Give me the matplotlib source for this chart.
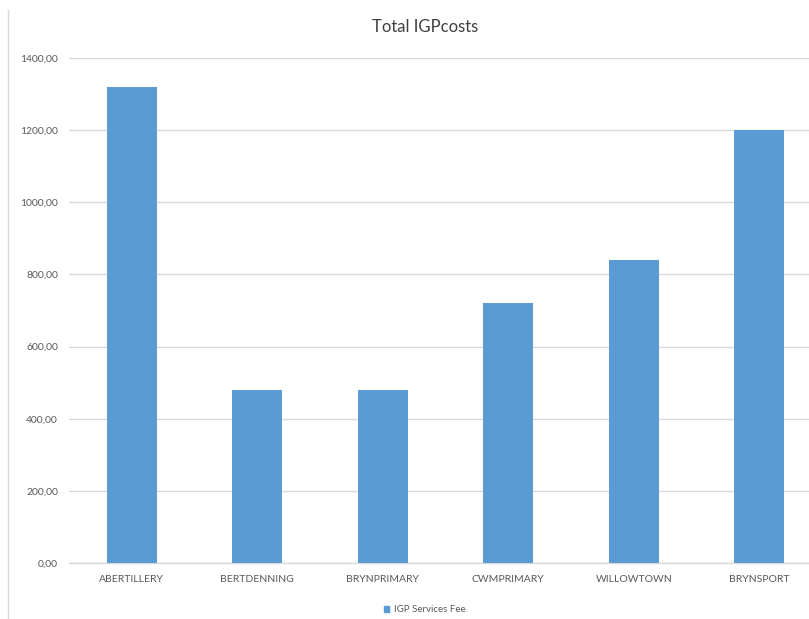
import matplotlib
matplotlib.use("Agg")
import matplotlib.pyplot as plt
from matplotlib.lines import Line2D

categories = ["ABERTILLERY", "BERTDENNING", "BRYNPRIMARY", "CWMPRIMARY", "WILLOWTOWN", "BRYNSPORT"]
values = [1320, 480, 480, 720, 840, 1200]
yticks = [0, 200, 400, 600, 800, 1000, 1200, 1400]
ytick_labels = ["0,00", "200,00", "400,00", "600,00", "800,00", "1000,00", "1200,00", "1400,00"]
title = "Total IGPcosts"
series_name = "IGP Services Fee"

plt.rcParams['font.family'] = ['Lato', 'DejaVu Sans']
W, H = 809, 619
fig = plt.figure(figsize=(W/100, H/100), dpi=100)
fig.patch.set_facecolor("white")

left = 69 / W
right = 822 / W
bottom = 1 - 563 / H
top = 1 - 58 / H
ax = fig.add_axes([left, bottom, right - left, top - bottom])
ax.set_facecolor("white")

x = list(range(len(categories)))
color = "#5B9BD5"
ax.bar(x, values, width=0.4, color=color, zorder=3)
ax.set_xlim(-0.5, len(categories) - 0.5)
ax.set_ylim(0, 1400)
ax.set_yticks(yticks)
ax.set_yticklabels(ytick_labels, fontsize=7.5, color="#595959")
ax.set_xticks(x)
ax.set_xticklabels(categories, fontsize=7.5, color="#595959")
ax.tick_params(axis='both', length=0, pad=8)
ax.tick_params(axis='x', pad=9)
ax.grid(axis='y', color="#D9D9D9", linewidth=1, zorder=0)
for s in ["top", "right", "left"]:
    ax.spines[s].set_visible(False)
ax.spines["bottom"].set_color("#D9D9D9")
ax.spines["bottom"].set_linewidth(1)

fig.text(425 / W, 1 - 27 / H, title, ha="center", va="center", fontsize=12, color="#404040")

# left chart border line
fig.add_artist(Line2D([8 / W, 8 / W], [1 - 10 / H, 1 - 619 / H], transform=fig.transFigure,
                      color="#D9D9D9", linewidth=1))

handle = plt.Rectangle((0, 0), 1, 1, color=color)
fig.legend([handle], [series_name], loc="center", bbox_to_anchor=(425 / W, 1 - 610 / H),
           frameon=False, fontsize=7, handlelength=0.5, handleheight=0.5, handletextpad=0.5,
           labelcolor="#595959")

fig.savefig("out.png", dpi=100)
